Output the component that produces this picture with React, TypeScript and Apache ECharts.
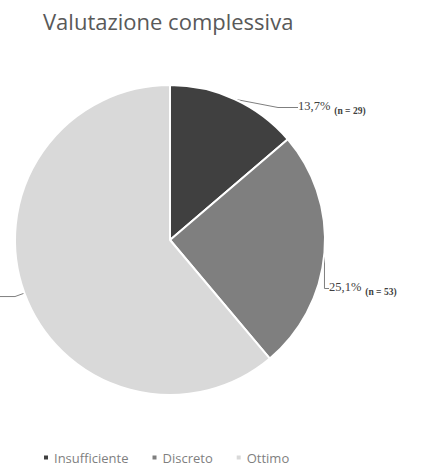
import React, { useEffect, useRef } from "react";
import * as echarts from "echarts";

const categories = ["Insufficiente", "Discreto", "Ottimo"];
const counts = [29, 53, 129];
const percentLabels = ["13,7%", "25,1%", "61,1%"];
const colors = ["#404040", "#7f7f7f", "#d9d9d9"];

export default function App() {
  const ref = useRef<HTMLDivElement>(null);
  useEffect(() => {
    document.body.style.margin = "0";
    const chart = echarts.init(ref.current!, undefined, { renderer: "svg" });
    const data = categories.map((name, i) => ({
      name,
      value: counts[i],
      itemStyle: { color: colors[i] },
      label: i === 2 ? { show: true, formatter: "" } : { show: true },
    }));
    chart.setOption({
      animation: false,
      title: {
        text: "Valutazione complessiva",
        left: 38,
        top: 5,
        textStyle: {
          fontFamily: "Open Sans",
          fontSize: 22,
          fontWeight: "normal",
          color: "#595959",
        },
      },
      legend: {
        top: 451,
        left: 42,
        padding: 0,
        icon: "rect",
        itemWidth: 6,
        itemHeight: 6,
        itemGap: 22,
        textStyle: { fontFamily: "Open Sans", fontSize: 13, color: "#7f7f7f" },
        data: categories,
      },
      series: [
        {
          type: "pie",
          center: [170, 240],
          radius: 155,
          startAngle: 90,
          clockwise: true,
          data,
          itemStyle: { borderColor: "#ffffff", borderWidth: 2 },
          label: {
            position: "outside",
            color: "#404040",
            overflow: "none",
            formatter: (p: any) =>
              `{a|${percentLabels[p.dataIndex]}}{b|(n = ${counts[p.dataIndex]})}`,
            rich: {
              a: { fontSize: 12.5, color: "#404040", fontFamily: "Liberation Serif" },
              b: {
                fontSize: 9.5,
                fontWeight: "bold",
                color: "#404040",
                fontFamily: "Liberation Serif",
                padding: [9, 0, 0, 4],
              },
            },
          },
          labelLine: {
            show: true,
            length: 10,
            length2: 20,
            lineStyle: { color: "#7f7f7f", width: 1 },
          },
          labelLayout: (p: any) => {
            if (p.dataIndex === 0) {
              return { x: 298, y: 106, align: "left", verticalAlign: "middle" };
            }
            if (p.dataIndex === 1) {
              return { x: 329, y: 287, align: "left", verticalAlign: "middle" };
            }
            return {};
          },
        },
      ],
    });
    return () => chart.dispose();
  }, []);
  return <div ref={ref} style={{ width: 422, height: 468 }} />;
}
